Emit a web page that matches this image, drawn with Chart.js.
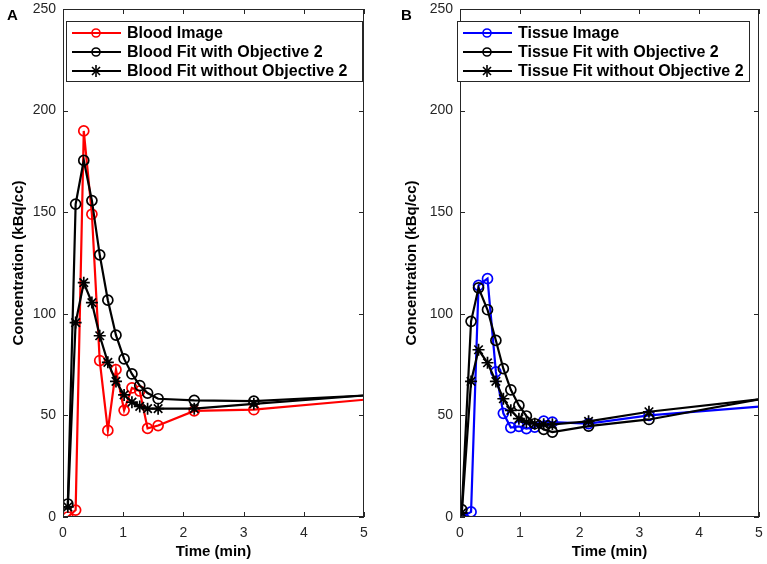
<!DOCTYPE html>
<html>
<head>
<meta charset="utf-8">
<script src="https://cdn.jsdelivr.net/npm/chart.js@4.4.0/dist/chart.umd.min.js"></script>
<style>
  body { margin: 0; background: #fff; font-family: Arial, "Liberation Sans", sans-serif; }
  #page { position: relative; width: 767px; height: 564px; overflow: hidden; }
  .panel { position: absolute; top: 0; height: 564px; }
  .tag { position: absolute; top: 7px; font: bold 15px Arial, "Liberation Sans", sans-serif; color: #000; line-height: 16px; }
  .legend { position: absolute; top: 21px; height: 61px; border: 1px solid #262626; background: #fff; box-sizing: border-box; }
  .legend .row { position: absolute; left: 5px; height: 18px; display: flex; align-items: center; white-space: nowrap; }
  .legend .row span { margin-left: 6px; font: bold 16px Arial, "Liberation Sans", sans-serif; color: #000; }
</style>
</head>
<body>
<div id="page">
  <div class="panel" style="left:0;width:383px"><canvas id="chartA" width="383" height="564"></canvas></div>
  <div class="panel" style="left:383px;width:384px"><canvas id="chartB" width="384" height="564"></canvas></div>
  <div class="tag" style="left:7px">A</div>
  <div class="tag" style="left:401px">B</div>
  <div class="legend" id="legendA" style="left:66px;width:297px"></div>
  <div class="legend" id="legendB" style="left:457px;width:293px"></div>
</div>
<script>
// --- данные ---
const X_TICKS = [0, 1, 2, 3, 4, 5];
const Y_TICKS = [0, 50, 100, 150, 200, 250];

// панель A: кровь
const TIME_A = [0.08, 0.21, 0.345, 0.48, 0.61, 0.745, 0.88, 1.015, 1.145, 1.275, 1.405, 1.58, 2.18, 3.17, 5];
const BLOOD_IMAGE = [0, 3.4, 190, 149, 77, 42.6, 72.5, 52.5, 63.5, 62, 43.6, 45, 52.2, 52.8, 57.7];
const BLOOD_FIT_OBJ2 = [6.4, 154, 175.5, 155.7, 129, 106.7, 89.5, 77.8, 70.4, 64.7, 61, 58.2, 57.4, 57, 59.8];
const BLOOD_FIT_NO_OBJ2 = [5, 95.7, 115.3, 105.5, 89.2, 76.1, 66.7, 60.1, 56.5, 54.4, 53.3, 53.3, 53.3, 55.7, 59.8];
const LABELS_A = ["Blood Image", "Blood Fit with Objective 2", "Blood Fit without Objective 2"];

// панель B: ткань
const TIME_B = [0.03, 0.185, 0.31, 0.46, 0.6, 0.725, 0.85, 0.985, 1.11, 1.25, 1.4, 1.545, 2.15, 3.16, 5];
const TISSUE_IMAGE = [0, 2.5, 114, 117.3, 71.4, 51, 44, 44.6, 43.5, 44.2, 47.2, 46.7, 46, 50, 54.3];
const TISSUE_FIT_OBJ2 = [3.6, 96.3, 112.8, 102, 86.9, 73, 62.6, 54.9, 49.7, 45.9, 43.1, 41.8, 44.7, 48, 57.9];
const TISSUE_FIT_NO_OBJ2 = [2, 66.7, 82.3, 75.9, 66.7, 58.2, 52.5, 48.4, 46.7, 45.9, 45.6, 45.6, 47.1, 51.8, 57.9];
const LABELS_B = ["Tissue Image", "Tissue Fit with Objective 2", "Tissue Fit without Objective 2"];

const AXIS = "#262626";
const FONT = "Arial, 'Liberation Sans', sans-serif";

// рамка как в MATLAB: коробка и засечки внутрь со всех сторон
const matlabBox = {
  id: "matlabBox",
  afterDraw(chart) {
    const { ctx, chartArea: a, scales: { x, y } } = chart;
    const len = 5;
    ctx.save();
    ctx.strokeStyle = AXIS;
    ctx.lineWidth = 1;
    ctx.strokeRect(Math.round(a.left) + 0.5, Math.round(a.top) + 0.5,
                   Math.round(a.right - a.left) - 1, Math.round(a.bottom - a.top) - 1);
    ctx.beginPath();
    x.ticks.forEach(t => {
      const px = Math.round(x.getPixelForValue(t.value)) + 0.5;
      ctx.moveTo(px, a.bottom); ctx.lineTo(px, a.bottom - len);
      ctx.moveTo(px, a.top); ctx.lineTo(px, a.top + len);
    });
    y.ticks.forEach(t => {
      const py = Math.round(y.getPixelForValue(t.value)) + 0.5;
      ctx.moveTo(a.left, py); ctx.lineTo(a.left + len, py);
      ctx.moveTo(a.right, py); ctx.lineTo(a.right - len, py);
    });
    ctx.stroke();
    ctx.restore();
  }
};

function toPoints(times, values) {
  return times.map((t, i) => ({ x: t, y: values[i] }));
}

// последняя точка — только продолжение линии до края, без маркера
function radiusFor(r) {
  return c => (c.dataIndex === c.dataset.data.length - 1 ? 0 : r);
}

function series(label, times, values, color, style, order) {
  return {
    label,
    data: toPoints(times, values),
    borderColor: color,
    backgroundColor: color,
    borderWidth: 2.2,
    pointStyle: style,
    pointRadius: radiusFor(style === "star" ? 6 : 5),
    pointBorderColor: color,
    pointBackgroundColor: "rgba(0,0,0,0)",
    pointBorderWidth: 1.7,
    tension: 0,
    order
  };
}

function renderPanel(id, datasets, yWidth, yTitlePad, padRight) {
  const ctx = document.getElementById(id).getContext("2d");
  new Chart(ctx, {
    type: "line",
    data: { datasets },
    options: {
      responsive: false,
      animation: false,
      devicePixelRatio: 1,
      layout: { padding: { top: 9, right: padRight, bottom: 0, left: 0 } },
      plugins: { legend: { display: false }, tooltip: { enabled: false } },
      scales: {
        x: {
          type: "linear",
          min: X_TICKS[0],
          max: X_TICKS[X_TICKS.length - 1],
          afterBuildTicks: s => { s.ticks = X_TICKS.map(v => ({ value: v })); },
          afterFit: s => { s.height = 47; s.paddingLeft = 0; s.paddingRight = 0; },
          grid: { display: false, drawTicks: false },
          border: { display: false },
          ticks: { color: AXIS, padding: 8, font: { family: FONT, size: 14 } },
          title: {
            display: true,
            text: "Time (min)",
            color: "#000",
            padding: { top: 0, bottom: 3 },
            font: { family: FONT, size: 15, weight: "bold" }
          }
        },
        y: {
          type: "linear",
          min: Y_TICKS[0],
          max: Y_TICKS[Y_TICKS.length - 1],
          afterBuildTicks: s => { s.ticks = Y_TICKS.map(v => ({ value: v })); },
          afterFit: s => { s.width = yWidth; s.paddingTop = 0; s.paddingBottom = 0; },
          grid: { display: false, drawTicks: false },
          border: { display: false },
          ticks: { color: AXIS, padding: 7, font: { family: FONT, size: 14 } },
          title: {
            display: true,
            text: "Concentration (kBq/cc)",
            color: "#000",
            padding: { top: yTitlePad, bottom: 0 },
            font: { family: FONT, size: 15, weight: "bold" }
          }
        }
      }
    },
    plugins: [matlabBox]
  });
}

function markerSvg(color, style) {
  let mark;
  if (style === "star") {
    mark = `<g stroke="${color}" stroke-width="1.6">
      <line x1="24" y1="2" x2="24" y2="14"/><line x1="18" y1="8" x2="30" y2="8"/>
      <line x1="20" y1="4" x2="28" y2="12"/><line x1="28" y1="4" x2="20" y2="12"/></g>`;
  } else {
    mark = `<circle cx="24" cy="8" r="4" fill="none" stroke="${color}" stroke-width="1.6"/>`;
  }
  return `<svg width="49" height="16" viewBox="0 0 49 16">
    <line x1="0" y1="8" x2="49" y2="8" stroke="${color}" stroke-width="2"/>${mark}</svg>`;
}

function renderLegend(id, labels, colors, styles) {
  const box = document.getElementById(id);
  labels.forEach((label, i) => {
    const row = document.createElement("div");
    row.className = "row";
    row.style.top = (2 + i * 19) + "px";
    row.innerHTML = markerSvg(colors[i], styles[i]);
    const span = document.createElement("span");
    span.textContent = label;
    row.appendChild(span);
    box.appendChild(row);
  });
}

const STYLES = ["circle", "circle", "star"];

renderPanel("chartA", [
  series(LABELS_A[0], TIME_A, BLOOD_IMAGE, "#ff0000", "circle", 2),
  series(LABELS_A[1], TIME_A, BLOOD_FIT_OBJ2, "#000000", "circle", 1),
  series(LABELS_A[2], TIME_A, BLOOD_FIT_NO_OBJ2, "#000000", "star", 0)
], 63, 10, 19);

renderPanel("chartB", [
  series(LABELS_B[0], TIME_B, TISSUE_IMAGE, "#0000ff", "circle", 2),
  series(LABELS_B[1], TIME_B, TISSUE_FIT_OBJ2, "#000000", "circle", 1),
  series(LABELS_B[2], TIME_B, TISSUE_FIT_NO_OBJ2, "#000000", "star", 0)
], 77, 20, 8);

renderLegend("legendA", LABELS_A, ["#ff0000", "#000000", "#000000"], STYLES);
renderLegend("legendB", LABELS_B, ["#0000ff", "#000000", "#000000"], STYLES);
</script>
</body>
</html>
